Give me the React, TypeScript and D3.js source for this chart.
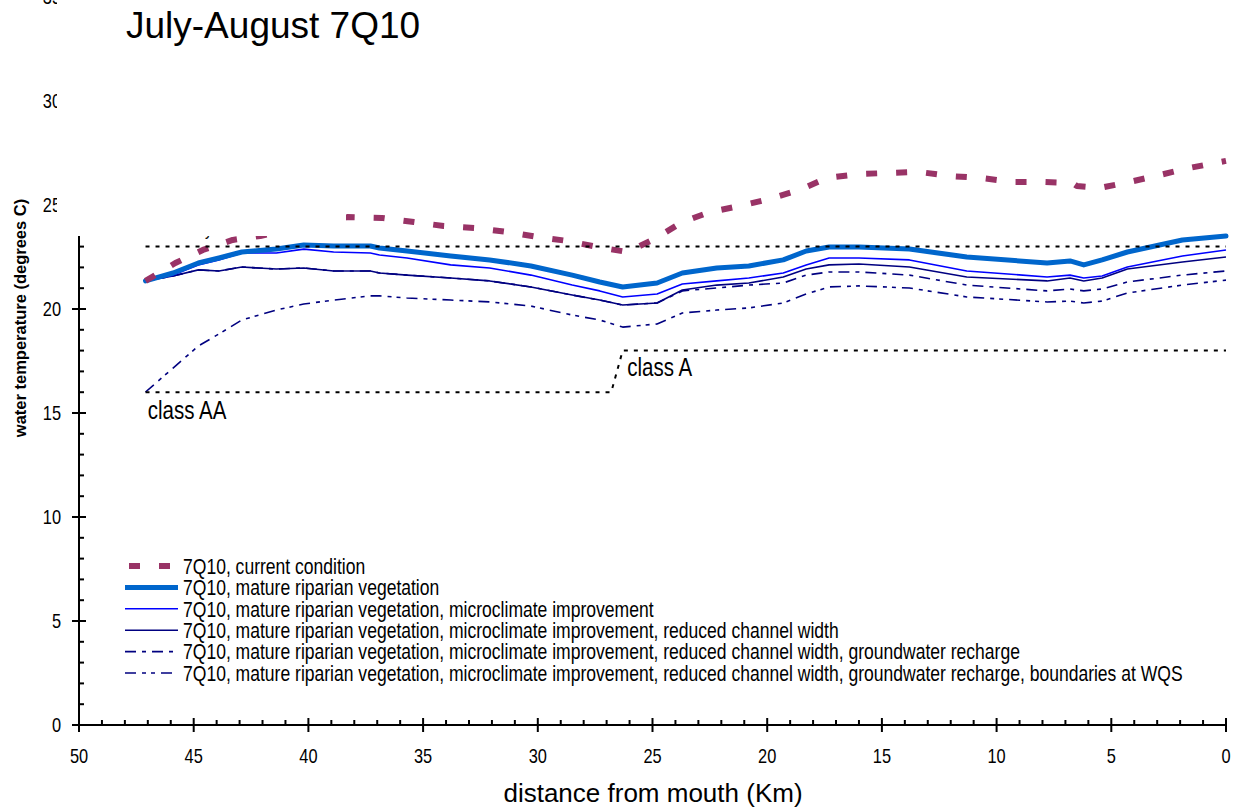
import React from 'react';
import * as d3 from 'd3';

// Distance from mouth (km) sampled along the river, upstream to downstream
const kmGrid = [47.1, 45.9, 44.8, 43.9, 42.9, 41.4, 40.2, 38.9, 37.3, 36.9, 35.7, 33.8, 32.1, 30.3, 28.5, 27.3, 26.3, 24.8, 23.7, 22.2, 20.8, 19.3, 18.3, 17.3, 16.0, 13.8, 11.3, 7.8, 6.8, 6.2, 5.4, 4.3, 1.9, 0];

// Current condition has its own sampling
const kmCurrent = [47.1, 45.8, 44.6, 43.3, 42.1, 40.4, 38.3, 36.8, 35.4, 34.1, 32.7, 31.3, 30.0, 28.7, 27.4, 26.1, 24.9, 23.7, 22.5, 21.2, 19.9, 18.6, 17.4, 16.0, 14.7, 13.4, 12.0, 10.7, 9.3, 8.0, 6.7, 6.5, 5.5, 4.2, 2.9, 1.6, 0];
const currentCondition = [21.35, 22.21, 22.84, 23.32, 23.51, 23.94, 24.42, 24.38, 24.18, 23.99, 23.89, 23.70, 23.46, 23.27, 22.98, 22.74, 23.37, 24.18, 24.66, 24.95, 25.29, 25.72, 26.30, 26.49, 26.54, 26.59, 26.39, 26.30, 26.11, 26.11, 26.06, 25.91, 25.82, 26.11, 26.44, 26.78, 27.12];

const matureRiparian = [21.35, 21.73, 22.21, 22.45, 22.74, 22.88, 23.08, 23.03, 23.03, 22.93, 22.79, 22.55, 22.36, 22.07, 21.63, 21.30, 21.06, 21.25, 21.73, 21.97, 22.07, 22.36, 22.79, 22.98, 22.98, 22.88, 22.50, 22.21, 22.31, 22.12, 22.36, 22.74, 23.32, 23.51];
const microclimate = [21.35, 21.63, 22.12, 22.36, 22.69, 22.69, 22.88, 22.74, 22.69, 22.60, 22.45, 22.12, 21.97, 21.63, 21.15, 20.87, 20.58, 20.72, 21.20, 21.35, 21.49, 21.73, 22.12, 22.45, 22.45, 22.36, 21.83, 21.54, 21.63, 21.49, 21.59, 22.02, 22.55, 22.84];
const reducedWidth = [21.35, 21.59, 21.88, 21.83, 22.02, 21.92, 21.97, 21.83, 21.83, 21.73, 21.63, 21.49, 21.35, 21.06, 20.67, 20.43, 20.19, 20.29, 20.91, 21.15, 21.25, 21.54, 21.92, 22.12, 22.16, 22.02, 21.54, 21.35, 21.49, 21.35, 21.49, 21.92, 22.26, 22.50];
const groundwater = [21.35, 21.59, 21.88, 21.83, 22.02, 21.92, 21.97, 21.83, 21.83, 21.73, 21.63, 21.49, 21.35, 21.06, 20.67, 20.43, 20.19, 20.29, 20.87, 21.01, 21.15, 21.25, 21.63, 21.78, 21.78, 21.63, 21.15, 20.87, 20.96, 20.87, 20.96, 21.30, 21.63, 21.83];
const boundariesWQS = [16.01, 17.16, 18.22, 18.80, 19.47, 19.95, 20.24, 20.43, 20.63, 20.63, 20.53, 20.43, 20.34, 20.14, 19.71, 19.47, 19.13, 19.28, 19.81, 19.95, 20.05, 20.29, 20.72, 21.06, 21.11, 21.01, 20.58, 20.34, 20.38, 20.29, 20.38, 20.77, 21.15, 21.39];

// Water quality standards
const standardKm = [47.1, 26.8, 26.3, 0];
const standardT = [16, 16, 18, 18];
const upperKm = [47.1, 0];
const upperT = [23, 23];

const legendLabels = [
  '7Q10, current condition',
  '7Q10, mature riparian vegetation',
  '7Q10, mature riparian vegetation, microclimate improvement',
  '7Q10, mature riparian vegetation, microclimate improvement, reduced channel width',
  '7Q10, mature riparian vegetation, microclimate improvement, reduced channel width, groundwater recharge',
  '7Q10, mature riparian vegetation, microclimate improvement, reduced channel width, groundwater recharge, boundaries at WQS',
];

const xTicks = [50, 45, 40, 35, 30, 25, 20, 15, 10, 5, 0];
const yTicks = [0, 5, 10, 15, 20, 25, 30, 35];

const SANS = "'Liberation Sans', Arial, sans-serif";

type Style = { stroke: string; width: number; dash?: string };

const styles: Style[] = [
  { stroke: '#993366', width: 6, dash: '11 19' },
  { stroke: '#0066CC', width: 5 },
  { stroke: '#0000FF', width: 1.6 },
  { stroke: '#000080', width: 1.6 },
  { stroke: '#000080', width: 1.6, dash: '11 6 4 6' },
  { stroke: '#000080', width: 1.6, dash: '11 6 4 5 4 6' },
];

// Condensed text: Liberation Sans squeezed horizontally
function NText(props: {
  x: number;
  y: number;
  size: number;
  anchor?: 'start' | 'middle' | 'end';
  dy?: string;
  children: React.ReactNode;
}) {
  return (
    <text
      transform={`translate(${props.x},${props.y}) scale(0.82,1)`}
      textAnchor={props.anchor || 'start'}
      dy={props.dy}
      fontFamily={SANS}
      fontSize={props.size}
      fill="#000"
    >
      {props.children}
    </text>
  );
}

export default function App() {
  const x = d3.scaleLinear().domain([50, 0]).range([79, 1226]);
  const y = d3.scaleLinear().domain([0, 35]).range([725, -3]);

  const line = d3
    .line<[number, number]>()
    .x((d) => x(d[0]))
    .y((d) => y(d[1]));

  const zip = (ks: number[], vs: number[]) => ks.map((k, i) => [k, vs[i]] as [number, number]);

  const series = [
    zip(kmCurrent, currentCondition),
    zip(kmGrid, matureRiparian),
    zip(kmGrid, microclimate),
    zip(kmGrid, reducedWidth),
    zip(kmGrid, groundwater),
    zip(kmGrid, boundariesWQS),
  ];
  const drawOrder = [5, 4, 3, 2, 1, 0];

  const xMinor = d3.range(0, 51, 1).filter((v) => v % 5 !== 0);
  const yMinor = d3.range(0, 36, 1).filter((v) => v % 5 !== 0);
  const y0 = y(0);
  const x0 = x(50);

  return (
    <svg width={1238} height={808} style={{ position: 'absolute', left: 0, top: 0, background: '#fff' }}>
      <rect x={0} y={0} width={1238} height={808} fill="#fff" />

      {/* series */}
      {drawOrder.map((i) => (
        <path
          key={i}
          d={line(series[i]) || ''}
          fill="none"
          stroke={styles[i].stroke}
          strokeWidth={styles[i].width}
          strokeDasharray={styles[i].dash}
          strokeLinejoin="round"
          strokeLinecap={i === 1 ? 'round' : 'butt'}
        />
      ))}

      {/* standards */}
      <path d={line(zip(upperKm, upperT)) || ''} fill="none" stroke="#000" strokeWidth={2} strokeDasharray="4 6" />
      <path d={line(zip(standardKm, standardT)) || ''} fill="none" stroke="#000" strokeWidth={2} strokeDasharray="4 6" />
      <NText x={x(47)} y={y(16) + 27} size={25}>class AA</NText>
      <NText x={x(26.1)} y={y(18) + 25} size={25}>class A</NText>
      <NText x={205} y={235} size={18}>y</NText>

      {/* x axis */}
      <line x1={x0} x2={x(0)} y1={y0} y2={y0} stroke="#000" strokeWidth={2} />
      {xTicks.map((t) => (
        <g key={'xt' + t}>
          <line x1={x(t)} x2={x(t)} y1={y0 - 7} y2={y0 + 7} stroke="#000" strokeWidth={2} />
          <NText x={x(t)} y={y0 + 38} size={20} anchor="middle">{t}</NText>
        </g>
      ))}
      {xMinor.map((t) => (
        <line key={'xm' + t} x1={x(t)} x2={x(t)} y1={y0 - 5} y2={y0} stroke="#000" strokeWidth={2} />
      ))}

      {/* y axis */}
      <line x1={x0} x2={x0} y1={y(35)} y2={y0} stroke="#000" strokeWidth={2} />
      {yTicks.map((t) => (
        <g key={'yt' + t}>
          <line x1={x0 - 7} x2={x0 + 7} y1={y(t)} y2={y(t)} stroke="#000" strokeWidth={2} />
          <NText x={x0 - 18} y={y(t)} dy="0.36em" size={20} anchor="end">{t}</NText>
        </g>
      ))}
      {yMinor.map((t) => (
        <line key={'ym' + t} x1={x0} x2={x0 + 5} y1={y(t)} y2={y(t)} stroke="#000" strokeWidth={2} />
      ))}

      {/* title panel */}
      <rect x={57} y={0} width={289} height={236} fill="#fff" />
      <text x={126} y={38} fontFamily={SANS} fontSize={37} fill="#000">July-August 7Q10</text>

      {/* axis titles */}
      <text x={653} y={802} textAnchor="middle" fontFamily={SANS} fontSize={26} fill="#000">distance from mouth (Km)</text>
      <text
        transform={`translate(26, 318) rotate(-90)`}
        textAnchor="middle"
        fontFamily={SANS}
        fontSize={16.5}
        fontWeight="bold"
        fill="#000"
      >
        water temperature (degrees C)
      </text>

      {/* legend */}
      {legendLabels.map((label, i) => {
        const cy = 566 + i * 21.4;
        const s = styles[i];
        return (
          <g key={'lg' + i}>
            <line
              x1={125}
              x2={178}
              y1={cy}
              y2={cy}
              stroke={s.stroke}
              strokeWidth={s.width}
              strokeDasharray={s.dash}
              strokeDashoffset={i === 0 ? -4 : 0}
              strokeLinecap="butt"
            />
            <NText x={183} y={cy} dy="0.36em" size={21.4}>{label}</NText>
          </g>
        );
      })}
    </svg>
  );
}
